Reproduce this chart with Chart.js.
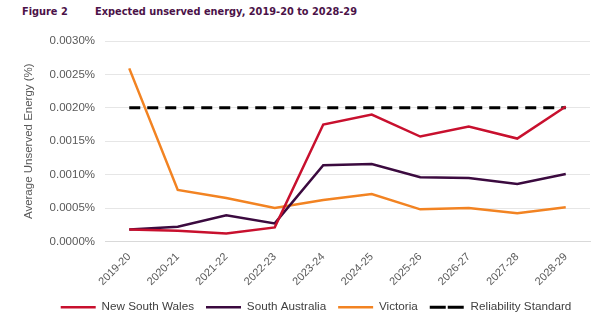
<!DOCTYPE html>
<html>
<head>
<meta charset="utf-8">
<script src="https://cdn.jsdelivr.net/npm/chart.js@4"></script>
<style>
    body { margin: 0; background: #ffffff; }
    #wrap { position: relative; width: 600px; height: 324px; }
    .fig { position: absolute; top: 6px; font-family: 'DejaVu Sans', sans-serif; font-weight: bold; font-size: 9.8px; color: #4b1248; }
    #fig-num { left: 22px; }
    #fig-title { left: 95px; }
    canvas { position: absolute; left: 0; top: 0; }
</style>
</head>
<body>
<div id="wrap">
    <div class="fig" id="fig-num">Figure 2</div>
    <div class="fig" id="fig-title">Expected unserved energy, 2019-20 to 2028-29</div>
    <canvas id="graph" width="600" height="324"></canvas>
</div>
<script>
const years = ['2019-20', '2020-21', '2021-22', '2022-23', '2023-24', '2024-25', '2025-26', '2026-27', '2027-28', '2028-29'];
const nsw_values = [0.00018, 0.00016, 0.00012, 0.00021, 0.00175, 0.00190, 0.00157, 0.00172, 0.00154, 0.00202];
const sa_values = [0.00018, 0.00022, 0.00039, 0.00027, 0.00114, 0.00116, 0.00096, 0.00095, 0.00086, 0.00101];
const vic_values = [0.00259, 0.00077, 0.00065, 0.00050, 0.00062, 0.00071, 0.00048, 0.00050, 0.00042, 0.00051];
const standard_values = [0.002, 0.002, 0.002, 0.002, 0.002, 0.002, 0.002, 0.002, 0.002, 0.002];

Chart.defaults.font.family = "'Liberation Sans', Arial, sans-serif";
Chart.defaults.font.size = 11;
Chart.defaults.color = '#595959';

function line_dataset(label, values, colour) {
    return {
        label: label,
        data: values,
        borderColor: colour,
        backgroundColor: colour,
        borderWidth: 2.5,
        pointRadius: 0,
        tension: 0
    };
}

let standard = line_dataset('Reliability Standard', standard_values, '#000000');
standard.borderWidth = 3;
standard.borderDash = [11, 7];

const data = {
    labels: years,
    datasets: [
        line_dataset('New South Wales', nsw_values, '#c8102e'),
        line_dataset('South Australia', sa_values, '#3b0a3f'),
        line_dataset('Victoria', vic_values, '#f28322'),
        standard
    ]
};

// the legend in the original sits a little right of centre
const shift_legend = {
    id: 'shift_legend',
    afterLayout(chart) {
        chart.legend.left += 16;
        chart.legend.right += 16;
    }
};

const config = {
    type: 'line',
    data,
    plugins: [shift_legend],
    options: {
        responsive: false,
        animation: false,
        layout: {
            padding: { left: 10, right: 10, top: 41, bottom: 1 }
        },
        plugins: {
            legend: {
                position: 'bottom',
                labels: {
                    boxWidth: 35,
                    boxHeight: 0,
                    padding: 12,
                    color: '#404040',
                    font: { size: 11.7 }
                }
            },
            tooltip: { enabled: false }
        },
        scales: {
            x: {
                offset: true,
                grid: { display: false },
                border: { color: '#d9d9d9' },
                ticks: { minRotation: 45, maxRotation: 45, padding: 1, color: '#595959' }
            },
            y: {
                min: 0,
                max: 0.003,
                afterFit: function (scale) { scale.width = 95; },
                ticks: {
                    stepSize: 0.0005,
                    padding: 10,
                    font: { size: 11.5 },
                    callback: value => value.toFixed(4) + '%'
                },
                grid: { color: '#e6e6e6', drawTicks: false },
                border: { display: false },
                title: {
                    display: true,
                    text: 'Average Unserved Energy (%)',
                    color: '#595959',
                    padding: { top: 12, bottom: 4 },
                    font: { size: 11.5 }
                }
            }
        }
    }
};

new Chart(document.getElementById('graph'), config);
</script>
</body>
</html>
